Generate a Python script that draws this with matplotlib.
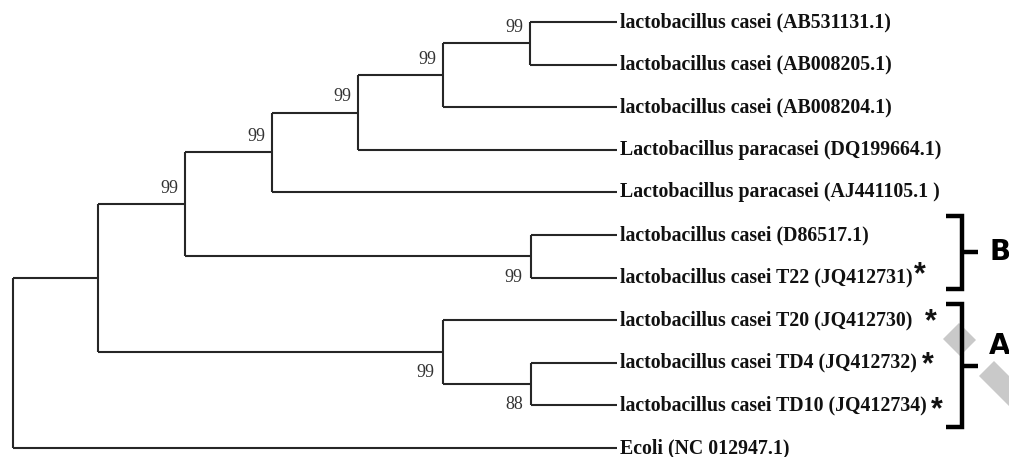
import matplotlib
matplotlib.use("Agg")
import matplotlib.pyplot as plt
from matplotlib.patches import Polygon

# ---------------- data ----------------
leaf_names = [
    "lactobacillus casei (AB531131.1)",
    "lactobacillus casei (AB008205.1)",
    "lactobacillus casei (AB008204.1)",
    "Lactobacillus paracasei (DQ199664.1)",
    "Lactobacillus paracasei (AJ441105.1 )",
    "lactobacillus casei (D86517.1)",
    "lactobacillus casei T22 (JQ412731)",
    "lactobacillus casei T20 (JQ412730)",
    "lactobacillus casei TD4 (JQ412732)",
    "lactobacillus casei TD10 (JQ412734)",
    "Ecoli (NC 012947.1)",
]
leaf_marker = ["", "", "", "", "", "", "*", "*", "*", "*", ""]
tip_depth = 604.0  # depth of all tips (tree drawn to aligned tips)

# internal nodes: name, depth, children, bootstrap, label side
node_names = ["n1", "n2", "n3", "n4", "nB", "n5", "nTD", "nA", "n6", "root"]
node_depths = [517, 430, 345, 259, 518, 172, 518, 430, 85, 0]
node_children = [
    ["L0", "L1"],
    ["n1", "L2"],
    ["n2", "L3"],
    ["n3", "L4"],
    ["L5", "L6"],
    ["n4", "nB"],
    ["L8", "L9"],
    ["L7", "nTD"],
    ["n5", "nA"],
    ["n6", "L10"],
]
node_bootstrap = ["99", "99", "99", "99", "99", "99", "88", "99", "", ""]
node_label_side = ["above", "above", "above", "above", "below", "above",
                   "below", "below", "", ""]

groups = ["B", "A"]
group_first = [5, 7]
group_last = [6, 9]

# ---------------- layout / style ----------------
W, H = 1009, 457
x_off = 13
y0, dy = 22.0, 42.6
fig = plt.figure(figsize=(W / 100, H / 100), dpi=100)
ax = fig.add_axes([0, 0, 1, 1])
ax.set_xlim(-x_off, W - x_off)
ax.set_ylim((H - y0) / dy, -y0 / dy)
ax.axis("off")

line_kw = dict(color="#262626", lw=1.5, solid_capstyle="butt")
serif = ["Liberation Serif", "DejaVu Serif"]

pos = {}
for i, name in enumerate(leaf_names):
    pos["L%d" % i] = (tip_depth, float(i))

nodes = dict(zip(node_names, zip(node_depths, node_children)))


def place(n):
    if n in pos:
        return pos[n]
    d, ch = nodes[n]
    ys = [place(c)[1] for c in ch]
    pos[n] = (d, sum(ys) / len(ys))
    return pos[n]


for n in node_names:
    place(n)

# draw edges
for n, d, ch in zip(node_names, node_depths, node_children):
    x, _ = pos[n]
    ys = [pos[c][1] for c in ch]
    ax.plot([x, x], [min(ys), max(ys)], **line_kw)
    for c in ch:
        cx, cy = pos[c]
        ax.plot([x, cx], [cy, cy], **line_kw)

# bootstrap labels
for n, bs, side in zip(node_names, node_bootstrap, node_label_side):
    if not bs:
        continue
    x, y = pos[n]
    off = (-5, 11.5) if side == "above" else (-6, -15)
    ax.annotate(bs, (x, y), xytext=off, textcoords="offset points",
                ha="right", va="center", fontsize=13, family=serif,
                color="#333333")

# leaf labels (+ marker asterisks)
star_off = {6: (0.5, 1.5), 7: (9, -1.5), 8: (3, -2), 9: (3, -3.5)}
for i, name in enumerate(leaf_names):
    x, y = pos["L%d" % i]
    t = ax.annotate(name, (x, y), xytext=(2.5, 0), textcoords="offset points",
                    ha="left", va="center", fontsize=14.3, family=serif,
                    fontweight="bold", color="#111111")
    if leaf_marker[i]:
        ox, oy = star_off[i]
        ax.annotate(leaf_marker[i], xy=(1, 0.5), xycoords=t,
                    xytext=(ox, oy), textcoords="offset points",
                    ha="left", va="center", fontsize=22, fontweight="bold",
                    family=["Liberation Sans", "DejaVu Sans"], color="#111111")

# watermark shapes (light grey)
wm_kw = dict(closed=True, facecolor="#c9c9c9", edgecolor="none",
             transform=ax.transAxes, zorder=0)
def px(p):
    return (p[0] / W, 1 - p[1] / H)
ax.add_patch(Polygon([px(p) for p in [(943, 339), (959, 323), (976, 340), (960, 356)]], **wm_kw))
ax.add_patch(Polygon([px(p) for p in [(979, 376), (994, 361), (1009, 376), (1009, 406)]], **wm_kw))

# group brackets
pads = {"B": (0.45, 0.27), "A": (0.37, 0.5)}
label_dy = {"B": 0.0, "A": -0.45}
xb0, xb1, xtip, xlab = 933, 949, 965, 976
for g, a, b in zip(groups, group_first, group_last):
    top = a - pads[g][0]
    bot = b + pads[g][1]
    mid = (top + bot) / 2
    ax.plot([xb0, xb1, xb1, xb0], [top, top, bot, bot], color="black",
            lw=3.2, solid_joinstyle="miter", solid_capstyle="butt", zorder=3)
    ax.plot([xb1, xtip], [mid, mid], color="black", lw=3.2,
            solid_capstyle="butt", zorder=3)
    ax.text(xlab, mid + label_dy[g], g, ha="left", va="center",
            fontsize=20, fontweight="bold", family="DejaVu Sans",
            color="black", zorder=3)

fig.savefig("out.png", dpi=100)
